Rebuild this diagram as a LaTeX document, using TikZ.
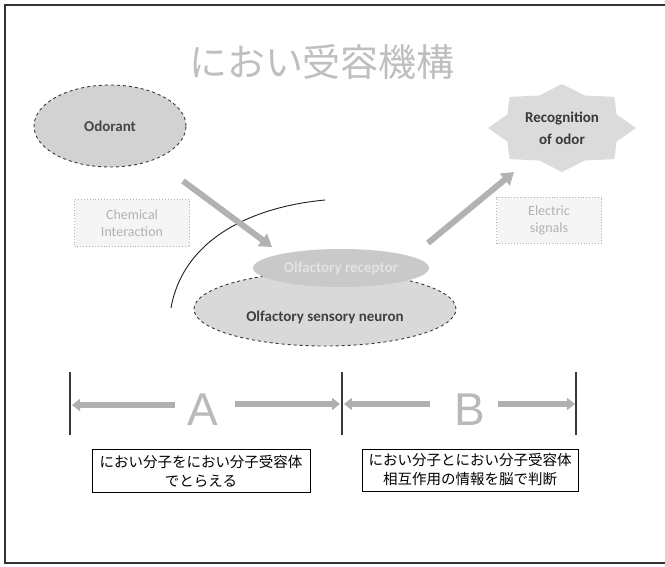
\documentclass[tikz,border=0pt]{standalone}
\usepackage{fontspec}
\setmainfont{Carlito}
\newfontfamily\jpfont{Noto Sans CJK JP}
\newfontfamily\bigsans{Liberation Sans}
\usetikzlibrary{shapes.geometric,arrows.meta}
\begin{document}
\begin{tikzpicture}[x=1pt,y=-1pt,
  blockarrow/.style={line width=6pt, draw=gray!60, -{Triangle[length=12pt,width=15pt]}},
  flatarrow/.style={line width=6.5pt, draw=gray!62, -{Triangle[length=8pt,width=12pt]}},
  dotbox/.style={draw=gray!60, dotted, line width=0.9pt, fill=gray!8, align=center, text=gray!60, font=\fontsize{14}{17}\selectfont},
  blob/.style={ellipse, draw=gray!45!black, dashed, line width=0.9pt},
  tick/.style={line width=1.4pt, draw=gray!45!black},
  capbox/.style={draw=black, line width=1pt, align=center, font=\jpfont\fontsize{14.5}{19}\selectfont, inner sep=2pt},
  bigletter/.style={font=\bigsans\fontsize{46}{46}\selectfont, text=gray!55}
]
\useasboundingbox (0,0) rectangle (665,566);
\fill[white] (0,0) rectangle (665,566);
\draw[line width=1.2pt, gray!40!black] (665,5) -- (5,5) -- (5,563) -- (665,563);

% title
\node[font=\jpfont\fontsize{38}{40}\selectfont, text=gray!50] (title) at (322,62) {におい受容機構};

% odorant
\node[blob, fill=gray!35, minimum width=152, minimum height=82, font=\bfseries\fontsize{15}{18}\selectfont, text=gray!55!black] (odor) at (110,126) {Odorant};

% chemical interaction
\node[dotbox, minimum width=115, minimum height=47] (chem) at (132,223) {Chemical\\Interaction};

% recognition star
\fill[gray!28] plot[samples at={0,...,15}] ({562+74*(1-0.2*mod(\x,2))*cos(\x*22.5)}, {128+44*(1-0.2*mod(\x,2))*sin(\x*22.5)}) -- cycle;
\node[align=center, font=\bfseries\fontsize{15}{22}\selectfont, text=gray!45!black] (rec) at (562,128) {Recognition\\of odor};

% electric signals
\node[dotbox, minimum width=105, minimum height=46] (elec) at (549,220) {Electric\\signals};

% arc
\coordinate (arcS) at (325,200);
\coordinate (arcE) at (171,308);
\draw[line width=0.9pt, gray!25!black] (arcS) .. controls (250,207) and (183,240) .. (arcE);

% neuron and receptor
\node[blob, fill=gray!30, minimum width=262, minimum height=74] (neuron) at (325,309) {};
\node[font=\bfseries\fontsize{15}{18}\selectfont, text=gray!50!black] (neurontext) at (325,317) {Olfactory sensory neuron};
\node[ellipse, fill=gray!42, minimum width=176, minimum height=38, font=\bfseries\fontsize{15}{18}\selectfont, text=gray!22] (recp) at (341,268) {Olfactory receptor};

% arrows
\coordinate (a1s) at (183,181);
\coordinate (a1e) at (272,247);
\draw[blockarrow] (a1s) -- (a1e);
\coordinate (a2s) at (428,243);
\coordinate (a2e) at (514,172);
\draw[blockarrow] (a2s) -- (a2e);

% scale ticks
\coordinate (t1a) at (70,372); \coordinate (t1b) at (70,435);
\coordinate (t2a) at (342,372); \coordinate (t2b) at (342,435);
\coordinate (t3a) at (576,372); \coordinate (t3b) at (576,435);
\draw[tick] (t1a) -- (t1b);
\draw[tick] (t2a) -- (t2b);
\draw[tick] (t3a) -- (t3b);

\node[bigletter] (A) at (203,410) {A};
\node[bigletter] (B) at (470,410) {B};

\coordinate (aL) at (72,405);
\coordinate (aR) at (340,404);
\coordinate (bL) at (344,404);
\coordinate (bR) at (575,404);
\draw[flatarrow] (175,405) -- (aL);
\draw[flatarrow] (235,404) -- (aR);
\draw[flatarrow] (430,404) -- (bL);
\draw[flatarrow] (498,404) -- (bR);

% caption boxes
\node[capbox, minimum width=218, minimum height=43] (capA) at (201,471) {におい分子をにおい分子受容体\\でとらえる};
\node[capbox, minimum width=216, minimum height=42] (capB) at (470,470) {におい分子とにおい分子受容体\\相互作用の情報を脳で判断};
\end{tikzpicture}
\end{document}
